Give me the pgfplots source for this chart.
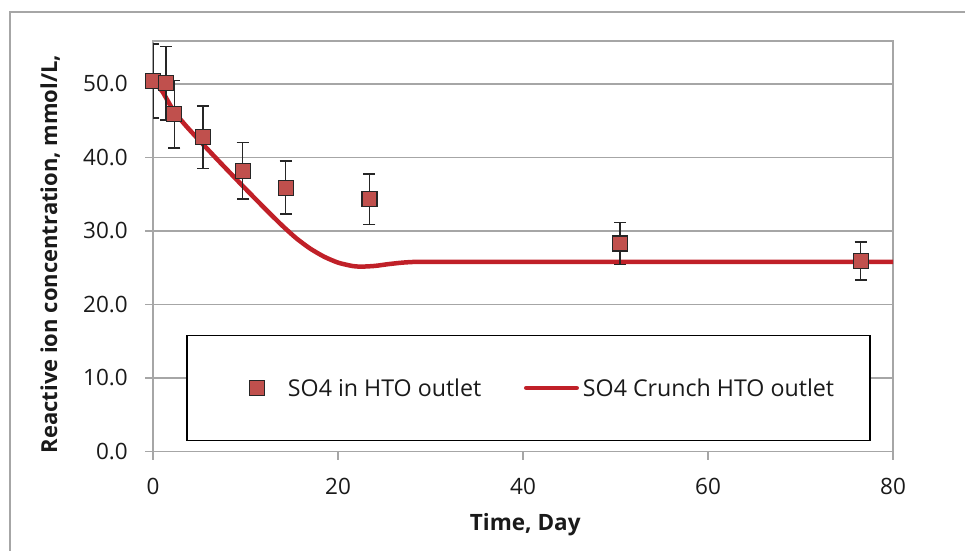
\documentclass[border=0pt]{standalone}
\usepackage{fontspec}
\setmainfont{Open Sans}
\usepackage{pgfplots}
\pgfplotsset{compat=1.18}
\definecolor{gridgray}{RGB}{166,166,166}
\definecolor{mkred}{RGB}{192,80,77}
\definecolor{mkdark}{RGB}{38,38,38}
\definecolor{lnred}{RGB}{192,32,40}
\definecolor{txt}{RGB}{26,26,26}
\pgfplotsset{
  mkleg/.style={legend image code/.code={\path[draw=none,fill=none] (-70bp,0bp) -- (31bp,0bp); \draw[##1] plot coordinates {(0bp,0bp)};}},
  lnleg/.style={legend image code/.code={\path[draw=none,fill=none] (0bp,0bp) -- (59bp,0bp); \draw[##1] (2.25bp,0bp) -- (52.75bp,0bp);}},
}
\begin{document}
\fontsize{22.5bp}{27bp}\selectfont
\begin{tikzpicture}
\useasboundingbox (0,0) rectangle (965bp,551bp);
\draw[gridgray, line width=1.2bp] (10bp,0bp) -- (10bp,539bp) -- (965bp,539bp);
\begin{axis}[
  at={(153bp,99.5bp)}, anchor=south west,
  scale only axis, width=740bp, height=410.5bp,
  xmin=0, xmax=80, ymin=0, ymax=55.85,
  xtick={0,20,40,60,80}, ytick={0,10,20,30,40,50},
  tick pos=left, tick align=outside, major tick length=8bp,
  axis line style={gridgray, line width=1.2bp},
  tick style={gridgray, line width=1.2bp},
  ymajorgrids, grid style={gridgray, line width=1.2bp},
  clip mode=individual,
  /pgf/number format/assume math mode=true,
  yticklabel style={/pgf/number format/fixed, /pgf/number format/fixed zerofill, /pgf/number format/precision=1, anchor=east, inner sep=0pt, xshift=-17bp, text=txt},
  xticklabel style={anchor=north, inner sep=0pt, yshift=-18.5bp, text=txt},
  xlabel={\fontsize{22.5bp}{27bp}\selectfont\bfseries Time, Day},
  ylabel={\fontsize{22bp}{27bp}\selectfont\bfseries Reactive ion concentration, mmol/L,},
  xlabel style={at={(rel axis cs:0.503,0)}, anchor=center, yshift=-73.5bp, text=txt},
  ylabel style={at={(rel axis cs:-0.139,0.481)}, anchor=center, text=txt},
  legend columns=2,
  legend style={at={(rel axis cs:0.5074,0.1547)}, anchor=center, draw=black, line width=1.2bp, fill=white,
    inner xsep=0pt, inner ysep=44bp, cells={anchor=center},
    nodes={inner sep=0pt, text depth=0pt, text=txt, draw=none, fill=none},
    font=\fontsize{23.2bp}{28bp}\selectfont,
    /tikz/every even column/.style={column sep=0pt}},
]
\addlegendimage{only marks, mark=square*, mark size=7.5bp, mark options={fill=mkred, draw=mkdark, line width=1.2bp, solid}, mkleg}
\addlegendentry{\makebox[236bp][l]{SO4 in HTO outlet}}
\addlegendimage{lnred, line width=4.5bp, line cap=round, lnleg}
\addlegendentry{\makebox[287bp][l]{SO4 Crunch HTO outlet}}

\addplot[forget plot, lnred, line width=4.5bp, line join=round, mark=none, smooth, tension=0.4] table {
x y
0 50.4
1 49.0
2.2 46.4
3.5 44.4
5.1 42.2
7.2 39.4
9.8 36.0
12.3 32.8
14.0 30.7
15.5 29.0
17.0 27.6
18.5 26.5
20.0 25.7
21.5 25.25
22.5 25.15
24.0 25.25
25.5 25.5
27.0 25.7
28.5 25.8
32.0 25.8
80 25.8
};

\addplot[forget plot, only marks, mark=square*, mark size=7.5bp,
  mark options={fill=mkred, draw=mkdark, line width=1.2bp, solid},
  error bars/y dir=both, error bars/y explicit,
  error bars/error bar style={mkdark, line width=1.5bp},
  error bars/error mark=-,
  error bars/error mark options={rotate=90, mkdark, line width=1.5bp, mark size=6bp}]
table[x=x, y=y, y error=e] {
x y e
0 50.4 5.04
1.4 50.1 5.01
2.3 45.9 4.59
5.4 42.75 4.28
9.7 38.2 3.82
14.35 35.9 3.59
23.4 34.3 3.43
50.5 28.3 2.83
76.5 25.9 2.59
};
\end{axis}
\end{tikzpicture}
\end{document}
